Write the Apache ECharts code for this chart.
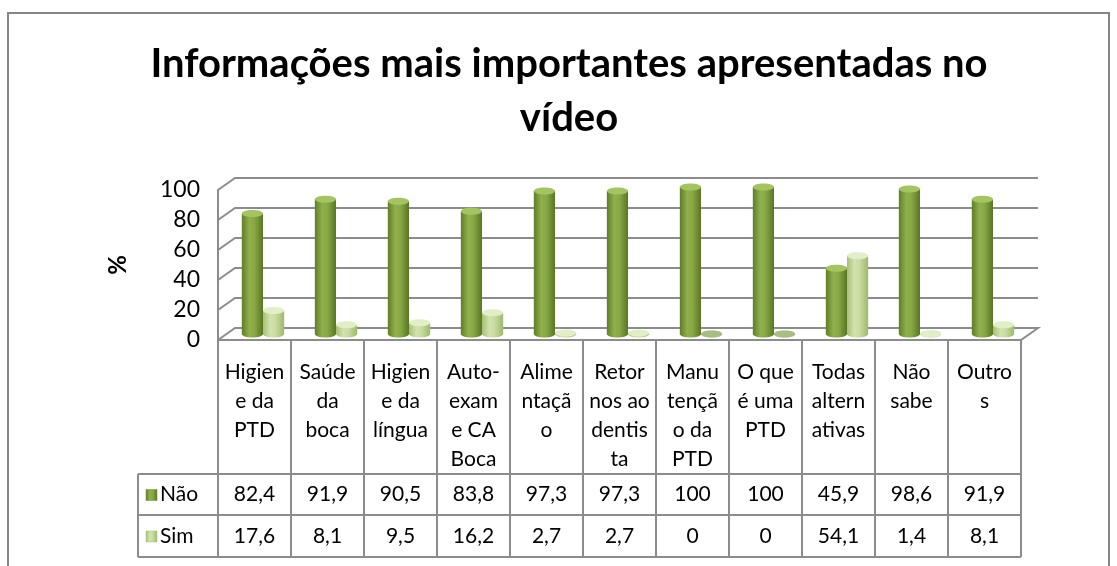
<!DOCTYPE html>
<html>
<head>
<meta charset="UTF-8">
<title>Informações mais importantes apresentadas no vídeo</title>
<script src="https://cdn.jsdelivr.net/npm/echarts@6/dist/echarts.min.js"></script>
<style>
  html, body { margin: 0; padding: 0; background: #fff; }
  #main { width: 1117px; height: 566px; }
</style>
</head>
<body>
<div id="main"></div>
<script type="text/javascript">
// categorias como aparecem quebradas na tabela de dados
var categorias = ['Higien\ne da\nPTD', 'Saúde\nda\nboca', 'Higien\ne da\nlíngua', 'Auto-\nexam\ne CA\nBoca',
    'Alime\nntaçã\no', 'Retor\nnos ao\ndentis\nta', 'Manu\ntençã\no da\nPTD', 'O que\né uma\nPTD',
    'Todas\naltern\nativas', 'Não\nsabe', 'Outro\ns'];
var nao = [82.4, 91.9, 90.5, 83.8, 97.3, 97.3, 100, 100, 45.9, 98.6, 91.9];
var sim = [17.6, 8.1, 9.5, 16.2, 2.7, 2.7, 0, 0, 54.1, 1.4, 8.1];
var yTicks = [0, 20, 40, 60, 80, 100];
var nomesSeries = ['Não', 'Sim'];

var FONTE = 'Lato, "Open Sans", sans-serif';
var CINZA = '#8c8c8c';
var PROF = [17, -12];      // deslocamento da parede do fundo (efeito 3D)
var LARG = 0.29;           // largura de cada cilindro, em unidades de categoria
var ALT_CAB = 134, ALT_LIN = 41;

function virgula(v) {
    return String(v).replace('.', ',');
}

function gradNao() {
    return new echarts.graphic.LinearGradient(0, 0, 1, 0, [
        {offset: 0, color: '#5f7d27'},
        {offset: 0.35, color: '#8fb04c'},
        {offset: 0.6, color: '#87a845'},
        {offset: 1, color: '#5a7624'}
    ]);
}
function gradSim() {
    return new echarts.graphic.LinearGradient(0, 0, 1, 0, [
        {offset: 0, color: '#a7bf78'},
        {offset: 0.35, color: '#d2e2ad'},
        {offset: 0.6, color: '#c8dba0'},
        {offset: 1, color: '#9fb86f'}
    ]);
}

// desenha um cilindro para a serie (lado 0 = Não, lado 1 = Sim)
function cilindro(lado) {
    return function (params, api) {
        var i = api.value(0), v = api.value(1);
        var xa = i + 0.5 + (lado - 1) * LARG;
        var base = api.coord([xa, 0]);
        var topo = api.coord([xa, v]);
        var xb = api.coord([xa + LARG, 0])[0];
        var w = xb - base[0];
        var x = base[0] + PROF[0] / 2;
        var yb = base[1] + PROF[1] / 2;
        var yt = topo[1] + PROF[1] / 2 + 3;
        if (yt > yb) yt = yb;
        var ry = 3.5;
        var fill = lado === 0 ? gradNao() : gradSim();
        var tampa = lado === 0 ? '#a4c363' : '#e1eec8';
        if (v === 0) tampa = lado === 0 ? '#7f9a4a' : '#a9bd84';
        return {
            type: 'group',
            children: [
                {type: 'ellipse', shape: {cx: x + w / 2, cy: yb, rx: w / 2, ry: ry}, style: {fill: fill}},
                {type: 'rect', shape: {x: x, y: yt, width: w, height: yb - yt}, style: {fill: fill}},
                {type: 'ellipse', shape: {cx: x + w / 2, cy: yt, rx: w / 2, ry: ry}, style: {fill: tampa}}
            ]
        };
    };
}

// linhas de grade na parede do fundo e parede lateral
function grade(params, api) {
    var v = api.value(1);
    var p = api.coord([0, v]);
    var q = api.coord([categorias.length, v]);
    var pts = [p, [p[0] + PROF[0], p[1] + PROF[1]], [q[0] + PROF[0], q[1] + PROF[1]]];
    if (v === 0) pts.push(q, p);
    return {
        type: 'polyline',
        shape: {points: pts},
        style: {stroke: CINZA, lineWidth: 2, fill: null}
    };
}

function linha(x1, y1, x2, y2) {
    return {type: 'line', shape: {x1: x1, y1: y1, x2: x2, y2: y2}, style: {stroke: CINZA, lineWidth: 2}};
}

// coluna da tabela de dados para cada categoria
function tabela(params, api) {
    var i = params.dataIndex;
    var xl = api.coord([i, 0])[0];
    var xr = api.coord([i + 1, 0])[0];
    var y0 = api.coord([0, 0])[1];
    var y1 = y0 + ALT_CAB, y2 = y1 + ALT_LIN, y3 = y2 + ALT_LIN + 1;
    var xc = (xl + xr) / 2;
    var txt = {fontFamily: FONTE, fontSize: 21, fill: '#000', align: 'center'};
    return {
        type: 'group',
        children: [
            linha(xl, y0, xl, y3), linha(xr, y0, xr, y3),
            linha(xl, y1, xr, y1), linha(xl, y2, xr, y2), linha(xl, y3, xr, y3),
            {type: 'text', x: xc, y: y0 + 18, style: Object.assign({text: categorias[i], verticalAlign: 'top', lineHeight: 29}, txt)},
            {type: 'text', x: xc, y: (y1 + y2) / 2, style: Object.assign({text: virgula(nao[i]), verticalAlign: 'middle'}, txt)},
            {type: 'text', x: xc, y: (y2 + y3) / 2, style: Object.assign({text: virgula(sim[i]), verticalAlign: 'middle'}, txt)}
        ]
    };
}

// celulas da legenda na tabela
function legendaTabela(params, api) {
    var k = params.dataIndex;
    var xr = api.coord([0, 0])[0];
    var xl = xr - 80;
    var yt = api.coord([0, 0])[1] + ALT_CAB + k * ALT_LIN;
    var yb = yt + ALT_LIN + k;
    var ym = (yt + yb) / 2;
    return {
        type: 'group',
        children: [
            linha(xl, yt, xr, yt), linha(xl, yb, xr, yb), linha(xl, yt, xl, yb),
            {type: 'rect', shape: {x: xl + 8, y: ym - 5, width: 11, height: 11},
                style: {fill: k === 0 ? gradNao() : gradSim(), stroke: k === 0 ? '#6f8d34' : '#a9c07c', lineWidth: 0.5}},
            {type: 'text', x: xl + 22, y: ym,
                style: {text: nomesSeries[k], fontFamily: FONTE, fontSize: 21, fill: '#000', align: 'left', verticalAlign: 'middle'}}
        ]
    };
}

var myChart = echarts.init(document.getElementById('main'));
var option = {
    animation: false,
    title: {
        text: 'Informações mais importantes apresentadas no\nvídeo',
        left: 564,
        textAlign: 'center',
        top: 32,
        textStyle: {fontFamily: FONTE, fontSize: 40, fontWeight: 'bold', color: '#000', lineHeight: 54}
    },
    graphic: [{
        type: 'rect', z: -10,
        shape: {x: 8, y: 13, width: 1101, height: 620},
        style: {fill: null, stroke: '#868686', lineWidth: 2}
    }],
    grid: {left: 218, top: 190, width: 803, height: 150},
    xAxis: {
        type: 'value', min: 0, max: categorias.length,
        axisLine: {show: true, lineStyle: {color: CINZA, width: 2}},
        axisTick: {show: false}, axisLabel: {show: false}, splitLine: {show: false}
    },
    yAxis: {
        type: 'value', min: 0, max: 100, interval: 20,
        name: '%', nameLocation: 'middle', nameRotate: 90, nameGap: 88,
        nameTextStyle: {fontFamily: FONTE, fontSize: 24, fontWeight: 'bold', color: '#000'},
        axisLine: {show: true, lineStyle: {color: CINZA, width: 2}},
        axisTick: {show: false},
        axisLabel: {fontFamily: FONTE, fontSize: 23, color: '#000', margin: 18},
        splitLine: {show: false}
    },
    series: [
        {type: 'custom', name: 'grade', renderItem: grade, z: 1, silent: true,
            data: yTicks.map(function (t) { return [0, t]; })},
        {type: 'custom', name: nomesSeries[1], renderItem: cilindro(1), z: 2,
            data: sim.map(function (v, i) { return [i, v]; })},
        {type: 'custom', name: nomesSeries[0], renderItem: cilindro(0), z: 3,
            data: nao.map(function (v, i) { return [i, v]; })},
        {type: 'custom', name: 'tabela', renderItem: tabela, z: 4, silent: true,
            data: categorias.map(function (c, i) { return [i, 0]; })},
        {type: 'custom', name: 'legenda', renderItem: legendaTabela, z: 4, silent: true,
            data: nomesSeries.map(function (n, k) { return [0, 0]; })}
    ]
};
myChart.setOption(option);
</script>
</body>
</html>
